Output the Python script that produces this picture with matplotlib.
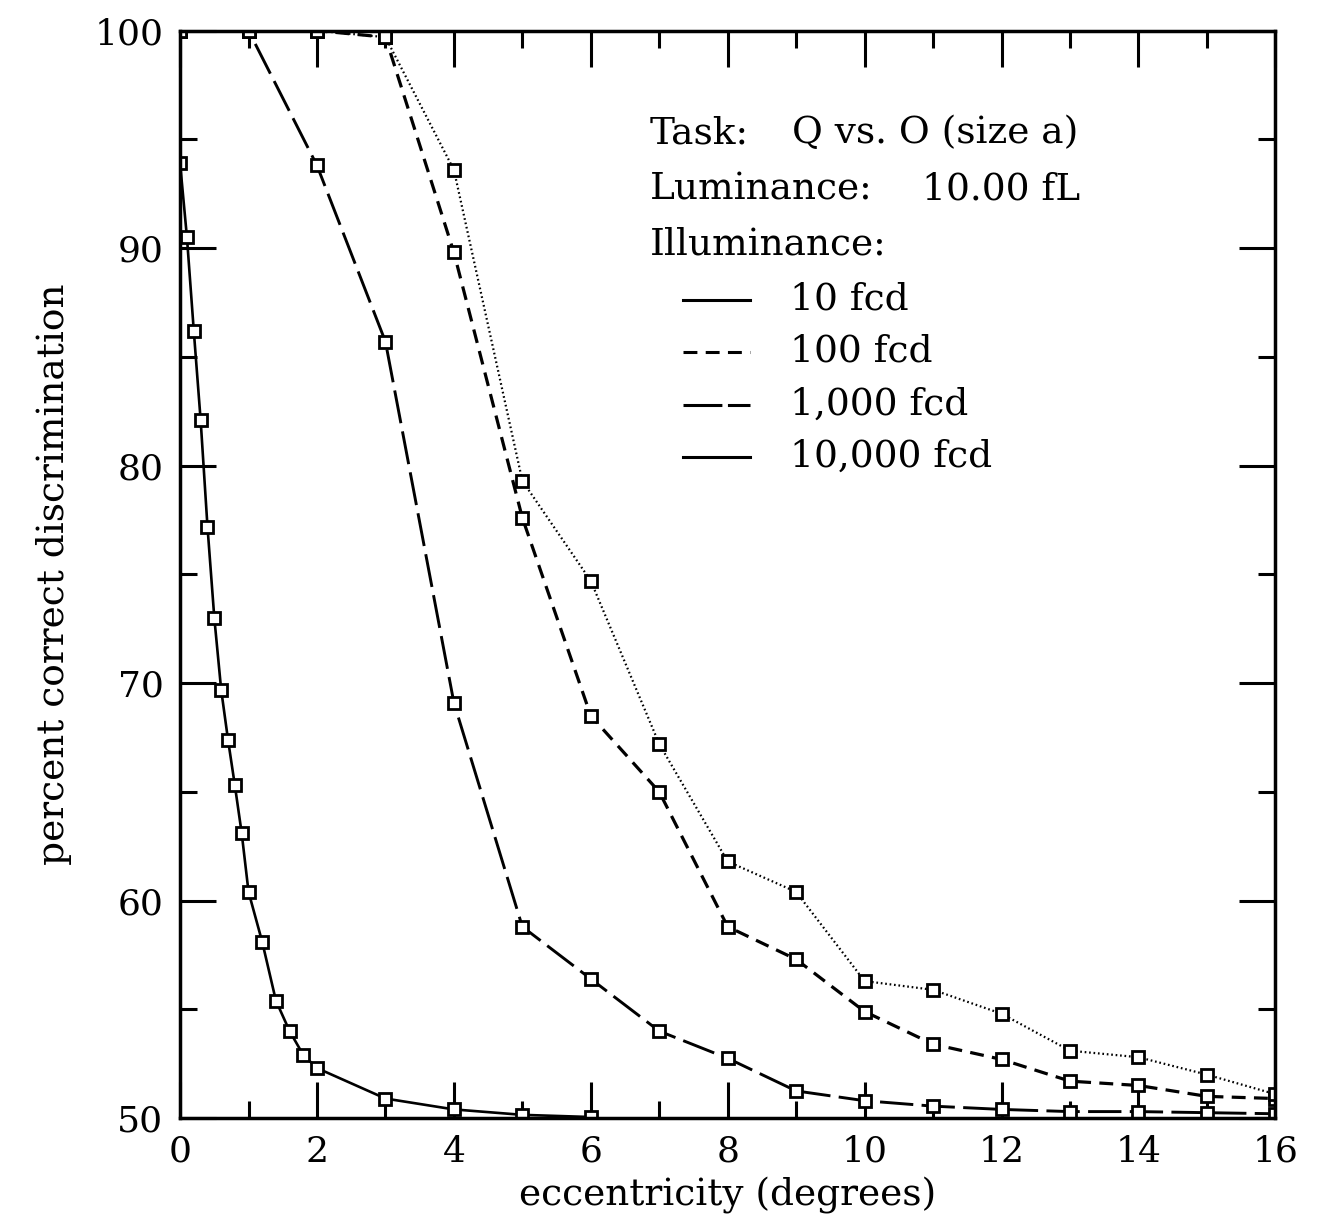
import matplotlib.pyplot as plt
from matplotlib.lines import Line2D
from matplotlib.ticker import MultipleLocator

plt.rcParams["font.family"] = ["DejaVu Serif"]
plt.rcParams["lines.scale_dashes"] = False

# eccentricity (degrees) for the three coarse series
ecc = list(range(17))

# 10 fcd is sampled more finely near the fovea
ecc_10 = [0.0, 0.1, 0.2, 0.3, 0.4, 0.5, 0.6, 0.7, 0.8, 0.9, 1.0,
          1.2, 1.4, 1.6, 1.8, 2.0, 3.0, 4.0, 5.0, 6.0]
pc_10 = [93.9, 90.5, 86.2, 82.1, 77.2, 73.0, 69.7, 67.4, 65.3, 63.1, 60.4,
         58.1, 55.4, 54.0, 52.9, 52.3, 50.9, 50.4, 50.15, 50.05]

pc_100 = [100, 100, 100, 99.7, 89.8, 77.6, 68.5, 65.0, 58.8, 57.3,
          54.9, 53.4, 52.7, 51.7, 51.5, 51.0, 50.9]
pc_1000 = [100, 100, 93.8, 85.7, 69.1, 58.8, 56.4, 54.0, 52.75, 51.25,
           50.8, 50.55, 50.4, 50.3, 50.3, 50.25, 50.2]
pc_10000 = [100, 100, 100, 99.7, 93.6, 79.3, 74.7, 67.2, 61.8, 60.4,
            56.3, 55.9, 54.8, 53.1, 52.8, 52.0, 51.1]

labels = ["10 fcd", "100 fcd", "1,000 fcd", "10,000 fcd"]

fig = plt.figure(figsize=(13.34, 12.26), dpi=100)
ax = fig.add_axes([0.135, 0.088, 0.821, 0.887])

mk = dict(marker="s", markersize=8.5, markerfacecolor="white",
          markeredgecolor="black", markeredgewidth=2.0, color="black")

ax.plot(ecc_10, pc_10, linestyle="-", linewidth=1.9, **mk)
ax.plot(ecc, pc_100, linestyle=(0, (10, 6)), linewidth=2.3, **mk)
ax.plot(ecc, pc_1000, linestyle=(0, (24, 6)), linewidth=2.1, **mk)
ax.plot(ecc, pc_10000, linestyle=(0, (1.2, 2.0)), linewidth=1.6, **mk)

ax.set_xlim(0, 16)
ax.set_ylim(50, 100)
ax.xaxis.set_major_locator(MultipleLocator(2))
ax.xaxis.set_minor_locator(MultipleLocator(1))
ax.yaxis.set_major_locator(MultipleLocator(10))
ax.yaxis.set_minor_locator(MultipleLocator(5))
ax.tick_params(which="both", direction="in", top=True, right=True,
               width=2.2, labelsize=26, pad=12)
ax.tick_params(which="major", length=26)
ax.tick_params(which="minor", length=12)
for sp in ax.spines.values():
    sp.set_linewidth(2.5)

ax.set_xlabel("eccentricity (degrees)", fontsize=27, labelpad=6)
ax.set_ylabel("percent correct discrimination", fontsize=27, labelpad=16)

# annotation block in the upper right
W, H = 1334, 1226


def ftext(x, y, s):
    fig.text(x / W, 1 - y / H, s, fontsize=27, va="center", ha="left")


ftext(650, 133, "Task:")
ftext(792, 133, "Q vs. O (size a)")
ftext(650, 190, "Luminance:")
ftext(922, 190, "10.00 fL")
ftext(650, 245, "Illuminance:")

styles = ["-", (0, (10, 6)), (0, (28, 4)), "-"]
rows = [300, 352, 405, 457]
for lab, st, yy in zip(labels, styles, rows):
    fig.add_artist(Line2D([683 / W, 750 / W], [1 - yy / H, 1 - yy / H],
                          color="black", linewidth=2.2, linestyle=st))
    ftext(790, yy, lab)

fig.savefig("out.png", dpi=100)
